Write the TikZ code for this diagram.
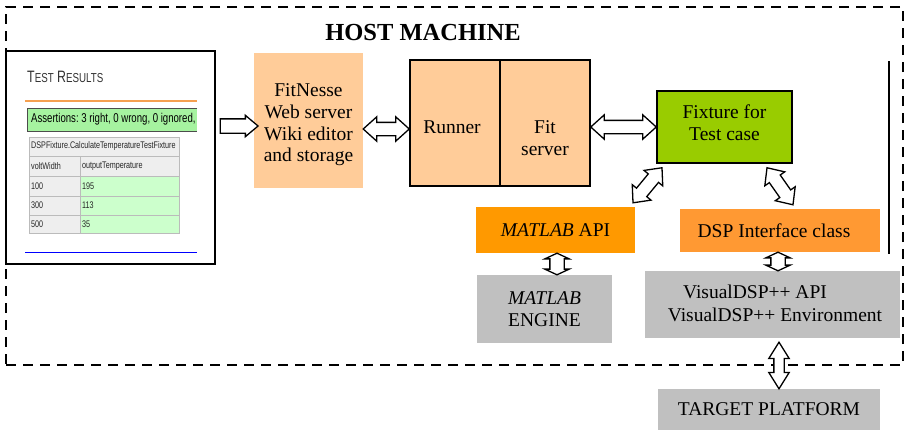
\documentclass[tikz,border=0pt]{standalone}
\usepackage{fontspec}
\setmainfont{Liberation Serif}
\newfontfamily\shotfont[FakeStretch=0.75]{Liberation Sans}
\usetikzlibrary{shapes.arrows,calc}
\definecolor{peach}{HTML}{FFCC99}
\definecolor{fixgreen}{HTML}{99CC00}
\definecolor{apiorange}{HTML}{FF9900}
\definecolor{dsporange}{HTML}{FF9933}
\definecolor{boxgray}{HTML}{C0C0C0}
\definecolor{rowgray}{HTML}{EEEEEE}
\definecolor{rowgreen}{HTML}{CCFFCC}
\definecolor{assertgreen}{HTML}{A6F3A0}
\definecolor{gridgray}{HTML}{BBBBBB}
\definecolor{lineorange}{HTML}{F5A050}
\newcommand{\bodysz}{\fontsize{19.5}{21.7}\selectfont}
\newcommand{\tabsz}{\shotfont\fontsize{9.6}{10}\selectfont}
% #1 style, #2 from, #3 to, #4 name
\newcommand{\blockarrow}[4]{%
  \path let \p1=#2, \p2=#3,
    \n1={atan2(\y2-\y1,\x2-\x1)},
    \n2={veclen(\x2-\x1,\y2-\y1)} in
    node[#1, minimum height=\n2, rotate=\n1] (#4) at ($(\p1)!0.5!(\p2)$) {};%
}
\tikzset{
  arrowbase/.style={draw=black, fill=white, line width=1.3pt, inner xsep=0pt, line join=miter},
  harrow/.style={arrowbase, double arrow, inner ysep=6pt, double arrow head extend=5.5pt, double arrow tip angle=84},
  smallarrow/.style={arrowbase, double arrow, inner ysep=6.5pt, double arrow head extend=5pt, double arrow tip angle=130},
  tarrow/.style={arrowbase, double arrow, inner ysep=4.5pt, double arrow head extend=5pt, double arrow tip angle=64},
  sarrow/.style={arrowbase, single arrow, inner ysep=6.5pt, single arrow head extend=3.5pt, single arrow tip angle=80},
  plainbox/.style={rectangle, inner sep=0pt, align=center, font=\bodysz},
  framedbox/.style={plainbox, draw=black, line width=1.5pt},
  lbl/.style={inner sep=0pt, align=center, font=\bodysz},
  cell/.style={rectangle, draw=gridgray, line width=0.6pt, inner sep=0pt, anchor=north west},
  celltext/.style={inner sep=0pt, anchor=west, font=\tabsz, text=black!85},
}
\begin{document}
\begin{tikzpicture}[x=1pt,y=-1pt]
\useasboundingbox (0,0) rectangle (905,431);
% host machine frame
\node[draw=black, line width=2pt, dash pattern=on 10pt off 7pt, minimum width=897pt, minimum height=358pt, inner sep=0pt] (host) at (454.5,186) {};
\node[font=\fontsize{24.5}{26}\selectfont\bfseries, inner sep=0pt] (title) at (423,33) {HOST MACHINE};

% screenshot of test results
\node[draw=black, line width=1.8pt, fill=white, minimum width=209pt, minimum height=213pt, inner sep=0pt] (shot) at (110.5,157.5) {};
\node[anchor=west, inner sep=0pt, font=\shotfont\fontsize{16.5}{16.5}\selectfont, text=black!80] (trtitle) at (27,77)
  {T{\fontsize{13}{13}\selectfont EST} R{\fontsize{13}{13}\selectfont ESULTS}};
\coordinate (ol1) at (25,101); \coordinate (ol2) at (197,101);
\draw[lineorange, line width=1.2pt] (ol1) -- (ol2);
\fill[assertgreen] (27,108) rectangle (197,131);
\draw[black!70, line width=1pt] (197,108) -- (27,108) -- (27,131) -- (197,131);
\begin{scope}
  \clip (27,105) rectangle (197,134);
  \node[anchor=west, inner sep=0pt, font=\shotfont\fontsize{12.8}{13}\selectfont] (assert) at (31,119.5) {Assertions:\ 3 right, 0 wrong, 0 ignored,};
\end{scope}
% table
\node[cell, fill=rowgray, minimum width=150pt, minimum height=19pt] (r1) at (29,137) {};
\node[celltext] (r1t) at (31,146.5) {DSPFixture.CalculateTemperatureTestFixture};
\node[cell, fill=rowgray, minimum width=51pt, minimum height=20pt] (r2a) at (29,156) {};
\node[cell, fill=rowgray, minimum width=99pt, minimum height=20pt] (r2b) at (80,156) {};
\node[celltext] (r2at) at (31,166) {voltWidth};
\node[celltext] (r2bt) at (82,166) {outputTemperature};
\node[cell, fill=rowgray, minimum width=51pt, minimum height=20pt] (r3a) at (29,176) {};
\node[cell, fill=rowgreen, minimum width=99pt, minimum height=20pt] (r3b) at (80,176) {};
\node[celltext] (r3at) at (31,186) {100};
\node[celltext] (r3bt) at (82,186) {195};
\node[cell, fill=rowgray, minimum width=51pt, minimum height=19pt] (r4a) at (29,196) {};
\node[cell, fill=rowgreen, minimum width=99pt, minimum height=19pt] (r4b) at (80,196) {};
\node[celltext] (r4at) at (31,205.5) {300};
\node[celltext] (r4bt) at (82,205.5) {113};
\node[cell, fill=rowgray, minimum width=51pt, minimum height=18pt] (r5a) at (29,215) {};
\node[cell, fill=rowgreen, minimum width=99pt, minimum height=18pt] (r5b) at (80,215) {};
\node[celltext] (r5at) at (31,224) {500};
\node[celltext] (r5bt) at (82,224) {35};
\coordinate (bl1) at (25,252); \coordinate (bl2) at (197,252);
\draw[blue, line width=1pt] (bl1) -- (bl2);

% main boxes
\node[plainbox, fill=peach, minimum width=109pt, minimum height=135pt] (fitnesse) at (308.5,120.5) {};
\node[lbl] (fitnesselbl) at (308.5,125) {FitNesse\\Web server\\Wiki editor\\and storage};
\node[framedbox, fill=peach, minimum width=90pt, minimum height=126pt] (runner) at (455,123) {};
\node[framedbox, fill=peach, minimum width=90pt, minimum height=126pt] (fitsrv) at (545,123) {};
\node[lbl] (runnerlbl) at (452,127) {Runner};
\node[lbl] (fitsrvlbl) at (545,138) {Fit\\server};
\node[framedbox, fill=fixgreen, minimum width=135pt, minimum height=72pt] (fixture) at (724.5,127) {};
\node[lbl] (fixturelbl) at (724.5,122.5) {Fixture for\\Test case};
\node[plainbox, fill=apiorange, minimum width=159pt, minimum height=46pt] (mapi) at (555.5,230) {\textit{MATLAB} API};
\node[plainbox, fill=dsporange, minimum width=200pt, minimum height=43pt] (dspif) at (780,230.5) {};
\node[lbl] (dspiflbl) at (774,230.5) {DSP Interface class};
\node[plainbox, fill=boxgray, minimum width=135pt, minimum height=68pt] (engine) at (544.5,309) {\textit{MATLAB}\\ENGINE};
\node[plainbox, fill=boxgray, minimum width=255pt, minimum height=67pt] (visual) at (772.5,304.5) {};
\node[lbl] (vis1) at (755,292) {VisualDSP++ API};
\node[lbl] (vis2) at (775,314.5) {VisualDSP++ Environment};
\node[plainbox, fill=boxgray, minimum width=222pt, minimum height=41pt] (target) at (769,409.5) {TARGET PLATFORM};

% right vertical line
\coordinate (vtop) at (889,61); \coordinate (vbot) at (889,254);
\draw[line width=1.5pt] (vtop) -- (vbot);

% arrows
\blockarrow{sarrow}{(shot.east |- 0,126)}{(fitnesse.west |- 0,126)}{a1}
\blockarrow{harrow}{(fitnesse.east |- 0,129)}{(runner.west |- 0,129)}{a2}
\blockarrow{harrow}{(fitsrv.east |- 0,127)}{(fixture.west |- 0,127)}{a3}
\blockarrow{harrow}{([xshift=-62.5pt,yshift=-4pt]fixture.south)}{([xshift=77.5pt,yshift=4pt]mapi.north)}{a4}
\blockarrow{harrow}{([xshift=42.5pt,yshift=-4pt]fixture.south)}{([xshift=13pt,yshift=4pt]dspif.north)}{a5}
\blockarrow{smallarrow}{(mapi.south -| 557,0)}{(engine.north -| 557,0)}{a6}
\blockarrow{smallarrow}{(dspif.south -| 778,0)}{(visual.north -| 778,0)}{a7}
\blockarrow{tarrow}{($(visual.south -| 779,0)+(0,4)$)}{(target.north -| 779,0)}{a8}
\end{tikzpicture}
\end{document}
